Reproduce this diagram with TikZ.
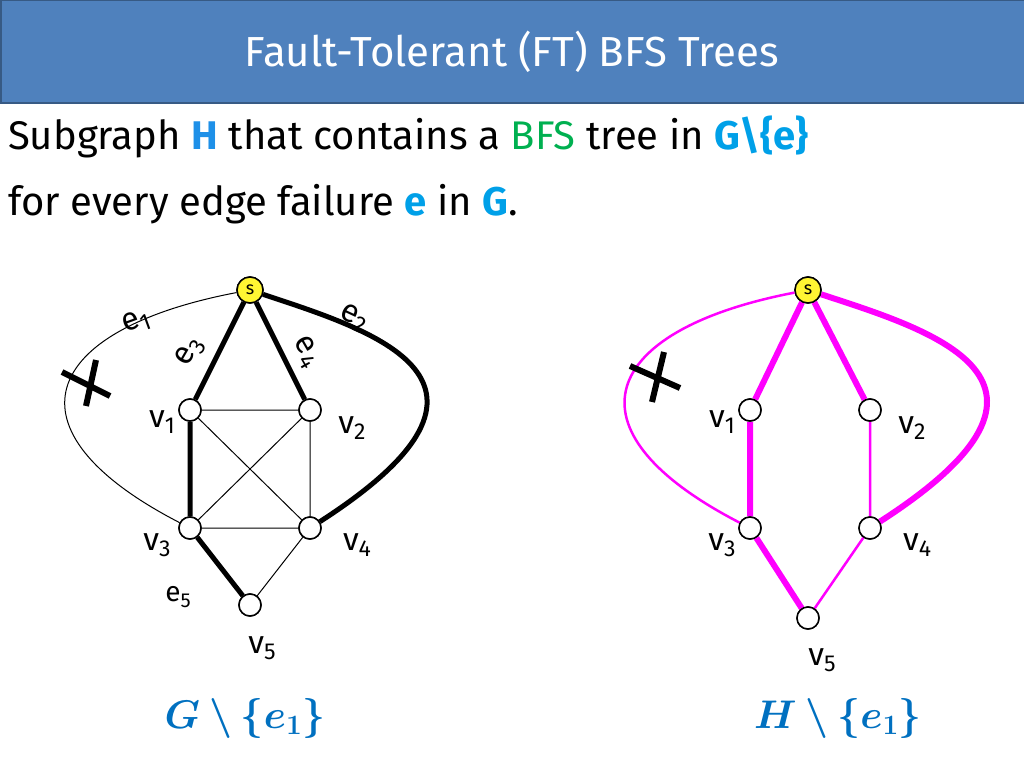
\documentclass[tikz,border=0pt]{standalone}
\usepackage{fix-cm}
\usepackage{fontspec}
\setmainfont{Fira Sans}
\usepackage{amsmath,bm}
\definecolor{tb}{HTML}{4F81BD}
\definecolor{hb}{HTML}{1E90E8}
\definecolor{eb}{HTML}{00A0E8}
\definecolor{gg}{HTML}{00B050}
\definecolor{mg}{HTML}{FF00FF}
\definecolor{lb}{HTML}{0070C0}
\newcommand{\mysub}[1]{\raisebox{-0.35ex}{\scalebox{0.72}{#1}}}
\begin{document}
\begin{tikzpicture}[x=1pt,y=-1pt,
 vtx/.style={circle,draw,fill=white,line width=1.5pt,minimum size=22pt,inner sep=0pt},
 src/.style={vtx,fill=yellow!80!white,minimum size=26pt,font=\fontsize{18}{18}\selectfont},
 thn/.style={line width=1pt},
 thk/.style={line width=5pt},
 lab/.style={font=\fontsize{32}{32}\selectfont,inner sep=0pt}]
\useasboundingbox (0,0) rectangle (1024,768);
\node[draw=tb!70!black,fill=tb,line width=1.5pt,minimum width=1024pt,minimum height=102pt,anchor=north west,inner sep=0pt] (title) at (0,0) {};
\node[text=white,font=\fontsize{42}{42}\selectfont] (tt) at (512,52) {Fault-Tolerant (FT) BFS Trees};
\node[anchor=west,font=\fontsize{40}{40}\selectfont,inner sep=0pt] (l1) at (8,137) {Subgraph \textcolor{hb}{\textbf{H}} that contains a \textcolor{gg}{BFS} tree in \textcolor{eb}{\textbf{G\textbackslash\{e\}}}};
\node[anchor=west,font=\fontsize{40}{40}\selectfont,inner sep=0pt] (l2) at (8,204) {for every edge failure \textcolor{eb}{\textbf{e}} in \textcolor{eb}{\textbf{G}}.};
% left graph
\node[vtx] (v1) at (190,410) {};
\node[vtx] (v2) at (310,410) {};
\node[vtx] (v3) at (190,528) {};
\node[vtx] (v4) at (310,528) {};
\node[vtx] (v5) at (250,605) {};
\node[src] (s) at (250,290) {s};
\draw[thn] (v1)--(v2) (v1)--(v4) (v2)--(v3) (v2)--(v4) (v3)--(v4) (v4)--(v5);
\draw[thn] (s) .. controls (40,330) and (0,430) .. (v3);
\draw[thk] (s)--(v1) (s)--(v2) (v1)--(v3) (v3)--(v5);
\draw[thk] (s) .. controls (370,330) and (540,380) .. (v4);
\node[vtx] at (v1) {}; \node[vtx] at (v2) {}; \node[vtx] at (v3) {}; \node[vtx] at (v4) {}; \node[vtx] at (v5) {};
\node[src] at (s) {s};
\draw[line width=6pt] (62,372)--(110,396) (96,360)--(86,406);
\node[lab,rotate=20] (le1) at (136,322) {e\mysub{1}};
\node[lab,rotate=60] (le3) at (190,352) {e\mysub{3}};
\node[lab,rotate=-60] (le4) at (306,352) {e\mysub{4}};
\node[lab,rotate=-25] (le2) at (354,318) {e\mysub{2}};
\node[lab] (lv1) at (162,422) {v\mysub{1}};
\node[lab] (lv2) at (352,428) {v\mysub{2}};
\node[lab] (lv3) at (157,545) {v\mysub{3}};
\node[lab] (lv4) at (357,545) {v\mysub{4}};
\node[lab] (lv5) at (262,648) {v\mysub{5}};
\node[lab,font=\fontsize{28}{28}\selectfont] (le5) at (178,597) {e\mysub{5}};
% right graph
\node[vtx] (w1) at (750,410) {};
\node[vtx] (w2) at (870,410) {};
\node[vtx] (w3) at (750,528) {};
\node[vtx] (w4) at (870,528) {};
\node[vtx] (w5) at (808,618) {};
\node[src] (t) at (808,290) {s};
\draw[mg,line width=2.5pt] (w2)--(w4) (w4)--(w5);
\draw[mg,line width=2.5pt] (t) .. controls (600,330) and (560,430) .. (w3);
\draw[mg,line width=6pt] (t)--(w1) (t)--(w2) (w1)--(w3) (w3)--(w5);
\draw[mg,line width=6pt] (t) .. controls (930,330) and (1100,380) .. (w4);
\node[vtx] at (w1) {}; \node[vtx] at (w2) {}; \node[vtx] at (w3) {}; \node[vtx] at (w4) {}; \node[vtx] at (w5) {};
\node[src] at (t) {s};
\draw[line width=6pt] (630,366)--(680,388) (664,352)--(652,402);
\node[lab] (lw1) at (722,422) {v\mysub{1}};
\node[lab] (lw2) at (912,428) {v\mysub{2}};
\node[lab] (lw3) at (722,545) {v\mysub{3}};
\node[lab] (lw4) at (917,545) {v\mysub{4}};
\node[lab] (lw5) at (822,660) {v\mysub{5}};
\node[text=lb,font=\fontsize{40}{40}\selectfont] (gl) at (245,718) {$\bm{G\setminus\{e_1\}}$};
\node[text=lb,font=\fontsize{40}{40}\selectfont] (hl) at (838,718) {$\bm{H\setminus\{e_1\}}$};
\end{tikzpicture}
\end{document}
